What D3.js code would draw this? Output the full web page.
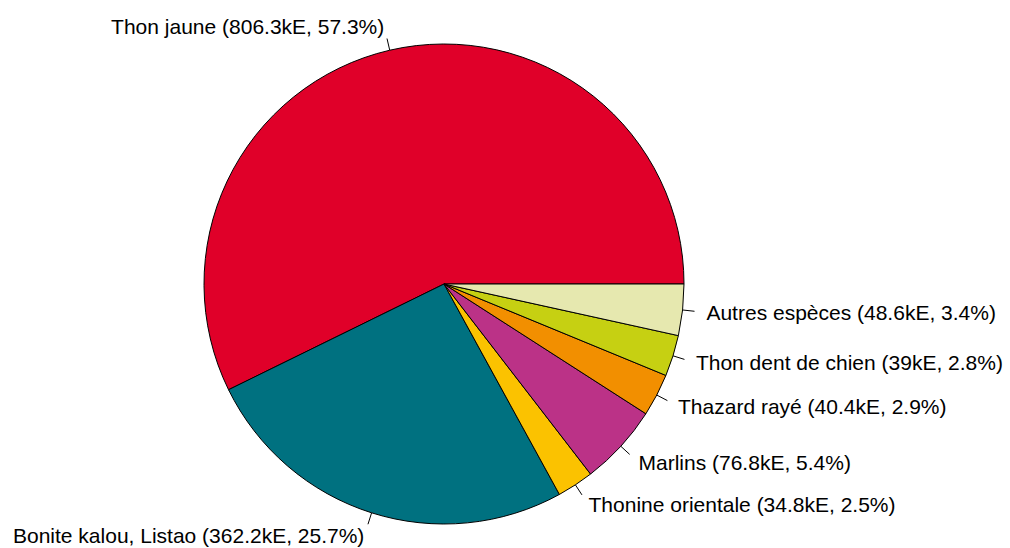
<!DOCTYPE html>
<html><head><meta charset="utf-8">
<script src="https://cdn.jsdelivr.net/npm/d3@7"></script>
<style>body{margin:0;background:#fff}svg{display:block}</style>
</head><body>
<svg id="c" width="1010" height="548"></svg>
<script>
const categories = ["Thon jaune","Bonite kalou, Listao","Thonine orientale","Marlins","Thazard rayé","Thon dent de chien","Autres espèces"];
const values = [806.3,362.2,34.8,76.8,40.4,39,48.6];
const valueLabels = ["806.3kE","362.2kE","34.8kE","76.8kE","40.4kE","39kE","48.6kE"];
const percentLabels = ["57.3%","25.7%","2.5%","5.4%","2.9%","2.8%","3.4%"];
const colors = ["#E00029","#007180","#FBC200","#BB3287","#F28F00","#C6D012","#E6E8AF"];

const svg = d3.select("#c");
const cx = 444, cy = 284, r = 240;
const g = svg.append("g").attr("transform", `translate(${cx},${cy})`);
const data = categories.map((c,i)=>({c, v: values[i], i}));
const pie = d3.pie().sort(null).value(d=>d.v).startAngle(Math.PI/2).endAngle(Math.PI/2 - 2*Math.PI);
const arcs = pie(data);
const arc = d3.arc().innerRadius(0).outerRadius(r);
g.selectAll("path.s").data(arcs).join("path").attr("class","s")
  .attr("d", arc).attr("fill", d=>colors[d.data.i])
  .attr("stroke","#000").attr("stroke-width",1).attr("stroke-linejoin","round");

arcs.forEach(d=>{
  const a = (d.startAngle + d.endAngle)/2;
  const ux = Math.sin(a), uy = -Math.cos(a);
  g.append("line").attr("x1",ux*r).attr("y1",uy*r).attr("x2",ux*r*1.05).attr("y2",uy*r*1.05)
    .attr("stroke","#000").attr("stroke-width",1);
  g.append("text").attr("x",ux*r*1.1).attr("y",uy*r*1.1)
    .attr("text-anchor", ux>0 ? "start" : "end")
    .attr("dominant-baseline","central")
    .attr("font-family","Liberation Sans, Arial, sans-serif").attr("font-size",21)
    .attr("fill","#000")
    .text(`${d.data.c} (${valueLabels[d.data.i]}, ${percentLabels[d.data.i]})`);
});
</script>
</body></html>
